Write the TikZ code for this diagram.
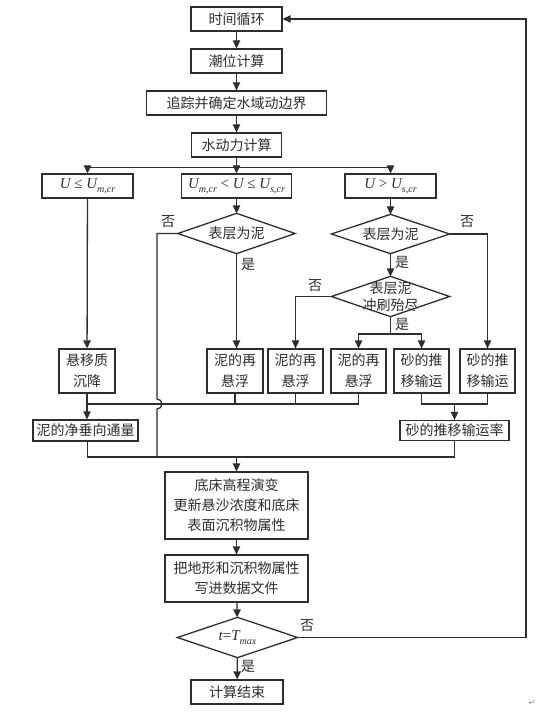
\documentclass[tikz,border=0pt]{standalone}
\usepackage{fontspec}
\setmainfont{Noto Sans CJK SC}
\newfontfamily\symf{DejaVu Sans}
\newfontfamily\tms{Liberation Serif}
\newcommand\vit[1]{{\tms\itshape #1}}
\newcommand\vsb[1]{\raisebox{-0.28em}{\tms\itshape\fontsize{10}{10}\selectfont #1}}
\newcommand\vrel[1]{{\tms\ #1\ }}
\usetikzlibrary{arrows.meta}
\definecolor{lc}{HTML}{2E2E2E}
\begin{document}
\begin{tikzpicture}[x=1pt,y=-1pt,color=lc,line width=1.3pt,
  every node/.style={font=\fontsize{14}{20}\selectfont},
  box/.style={draw,line width=1.3pt,inner sep=0pt,minimum height=24pt,align=center},
  dnode/.style={inner sep=0pt,align=center},
  arr/.style={-{Triangle[length=8pt,width=7.5pt]}},
  lbl/.style={inner sep=0pt}]
\useasboundingbox[fill=white] (0,0) rectangle (547,714);
% top chain
\node[box,minimum width=91pt] (t1) at (236.5,19) {时间循环};
\node[box,minimum width=91pt] (t2) at (236.5,61) {潮位计算};
\node[box,minimum width=180pt] (t3) at (236.5,103) {追踪并确定水域动边界};
\node[box,minimum width=90pt] (t4) at (236.5,145) {水动力计算};
% conditions
\node[box,minimum width=91pt,font=\fontsize{15}{20}\selectfont] (c1) at (87.5,186) {\vit{U}\vrel{≤}\vit{U}\vsb{m,cr}};
\node[box,minimum width=110pt,font=\fontsize{15}{20}\selectfont] (c2) at (236.5,186) {\vit{U}\vsb{m,cr}\vrel{<}\vit{U}\vrel{≤}\vit{U}\vsb{s,cr}};
\node[box,minimum width=91pt,font=\fontsize{15}{20}\selectfont] (c3) at (390.5,186) {\vit{U}\vrel{>}\vit{U}\vsb{s,cr}};
% diamonds
\node[dnode,minimum width=116pt,minimum height=39pt] (d1) at (236.5,233.5) {表层为泥};
\draw (d1.north) -- (d1.east) -- (d1.south) -- (d1.west) -- cycle;
\node[dnode,minimum width=117pt,minimum height=38pt] (d2) at (390.5,234) {表层为泥};
\draw (d2.north) -- (d2.east) -- (d2.south) -- (d2.west) -- cycle;
\node[dnode,minimum width=117pt,minimum height=39pt,font=\fontsize{14}{17}\selectfont] (d3) at (390.5,296.5) {表层泥\\冲刷殆尽};
\draw (d3.north) -- (d3.east) -- (d3.south) -- (d3.west) -- cycle;
% process boxes
\node[box,minimum width=56pt,minimum height=44pt,font=\fontsize{14}{21}\selectfont] (s1) at (87,371) {悬移质\\沉降};
\node[box,minimum width=56pt,minimum height=44pt,font=\fontsize{14}{21}\selectfont] (m1) at (235,371) {泥的再\\悬浮};
\node[box,minimum width=55pt,minimum height=44pt,font=\fontsize{14}{21}\selectfont] (m2) at (295.5,371) {泥的再\\悬浮};
\node[box,minimum width=55pt,minimum height=44pt,font=\fontsize{14}{21}\selectfont] (m3) at (358.5,371) {泥的再\\悬浮};
\node[box,minimum width=55pt,minimum height=44pt,font=\fontsize{14}{21}\selectfont] (a1) at (421.5,371) {砂的推\\移输运};
\node[box,minimum width=55pt,minimum height=44pt,font=\fontsize{14}{21}\selectfont] (a2) at (487.5,371) {砂的推\\移输运};
\node[box,minimum width=105pt,minimum height=21pt] (n1) at (85.5,430.5) {泥的净垂向通量};
\node[box,minimum width=109pt,minimum height=20pt] (r1) at (454.5,430.5) {砂的推移输运率};
% bottom chain
\node[box,minimum width=143pt,minimum height=67pt] (b1) at (236.5,505.5) {底床高程演变\\更新悬沙浓度和底床\\表面沉积物属性};
\node[box,minimum width=143pt,minimum height=47pt] (b2) at (236.5,578.5) {把地形和沉积物属性\\写进数据文件};
\node[dnode,minimum width=119pt,minimum height=39pt,font=\fontsize{15}{20}\selectfont] (d4) at (237.5,637.5) {\vit{t}{\tms=}\vit{T}\vsb{max}};
\draw (d4.north) -- (d4.east) -- (d4.south) -- (d4.west) -- cycle;
\node[box,minimum width=92pt] (e1) at (237,692) {计算结束};
% coordinates
\coordinate (sp) at (236.5,167.5);
\coordinate (jl) at (157,233.5);
\coordinate (h1) at (157,399);
\coordinate (h2) at (157,457);
\coordinate (y1) at (390.5,334);
\coordinate (ra) at (487.5,234);
\coordinate (la) at (295.5,296.5);
\coordinate (mr) at (87.5,404);
\coordinate (sj) at (454.5,404);
\coordinate (bl) at (87.5,457);
\coordinate (bc) at (236.5,457);
\coordinate (fb) at (526,637.5);
\coordinate (ft) at (526,19);
% top arrows
\draw[arr] (t1) -- (t2);
\draw[arr] (t2) -- (t3);
\draw[arr] (t3) -- (t4);
\draw[arr] (t4) -- (c2);
\draw[arr] (sp) -| (c1.north);
\draw[arr] (sp) -| (c3.north);
% left column
\draw[arr] (c1) -- (s1);
\draw[arr] (s1) -- (n1.north -| s1.south);
% middle column
\draw[arr] (c2) -- (d1);
\draw[arr] (d1.south) -- (m1.north -| d1.south);
\draw (d1.west) -- (jl) -- (h1) arc[start angle=90,end angle=-90,radius=5pt] -- (h2);
% right column
\draw[arr] (c3) -- (d2);
\draw[arr] (d2) -- (d3);
\draw[arr] (d2.east) -- (ra) -- (a2.north);
\draw[arr] (d3.west) -- (la) -- (m2.north);
\draw (d3.south) -- (y1);
\draw[arr] (y1) -| (m3.north);
\draw[arr] (y1) -| (a1.north);
% joins
\draw (mr) -- (m3.south |- mr);
\draw (m1.south) -- (m1.south |- mr);
\draw (m2.south) -- (m2.south |- mr);
\draw (m3.south) -- (m3.south |- mr);
\draw (a1.south) -- (a1.south |- sj) -- (a2.south |- sj) -- (a2.south);
\draw[arr] (sj) -- (r1.north);
\draw (n1.south -| bl) -- (bl) -- (r1.south |- bl) -- (r1.south);
\draw[arr] (bc) -- (b1.north);
% bottom chain
\draw[arr] (b1) -- (b2);
\draw[arr] (b2) -- (d4);
\draw[arr] (d4) -- (e1);
\draw[arr] (d4.east) -- (fb) -- (ft) -- (t1.east);
% labels
\node[lbl] (l1) at (168,222) {否};
\node[lbl] (l2) at (248,264) {是};
\node[lbl] (l3) at (467,222) {否};
\node[lbl] (l4) at (402,262) {是};
\node[lbl] (l5) at (315,286) {否};
\node[lbl] (l6) at (402,324) {是};
\node[lbl] (l7) at (307,626) {否};
\node[lbl] (l8) at (248,666) {是};
\node[lbl,text=black!45,font=\symf\fontsize{8}{8}\selectfont] (pm) at (532,703) {↵};
\end{tikzpicture}
\end{document}
